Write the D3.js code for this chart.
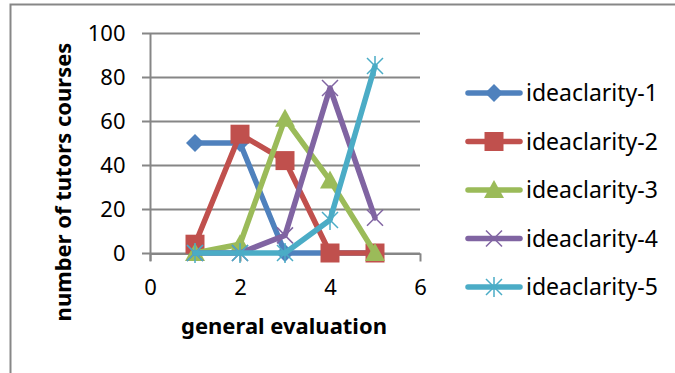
<!DOCTYPE html>
<html>
<head>
<meta charset="utf-8">
<script src="https://cdn.jsdelivr.net/npm/d3@7"></script>
<style>
  body { margin: 0; background: #fff; }
  svg text { font-family: "Noto Sans", "Open Sans", sans-serif; fill: #000; }
</style>
</head>
<body>
<svg id="chart_1" width="675" height="373"></svg>
<script>
// data
var xValues = [1, 2, 3, 4, 5];
var seriesNames = ["ideaclarity-1", "ideaclarity-2", "ideaclarity-3", "ideaclarity-4", "ideaclarity-5"];
var clarity1 = [50, 50, 0, 0, 0];
var clarity2 = [4, 54, 42, 0, 0];
var clarity3 = [0, 4, 61, 33, 0];
var clarity4 = [0, 0, 8, 75, 16];
var clarity5 = [0, 0, 0, 15, 85];
var xTicks = [0, 2, 4, 6];
var yTicks = [0, 20, 40, 60, 80, 100];

var colors = ["#4F81BD", "#C0504D", "#9BBB59", "#8064A2", "#4BACC6"];
var shapes = ["diamond", "square", "triangle", "cross", "star"];
var allSeries = [clarity1, clarity2, clarity3, clarity4, clarity5];

var svg_1 = d3.select("#chart_1");

// outer frame (only top and left edges visible in the picture)
svg_1.append("path")
    .attr("d", "M10.5,373 V4.5 H675")
    .attr("fill", "none")
    .attr("stroke", "#878787")
    .attr("stroke-width", 2);

var xScale = d3.scaleLinear().domain([0, 6]).range([150, 420]);
var yScale = d3.scaleLinear().domain([0, 100]).range([253, 33]);

// gridlines
svg_1.append("g")
    .attr("class", "grid")
    .selectAll("line")
    .data(yTicks)
    .enter().append("line")
    .attr("x1", 142)
    .attr("x2", 420)
    .attr("y1", function (d) { return yScale(d) + 0.5; })
    .attr("y2", function (d) { return yScale(d) + 0.5; })
    .attr("stroke", "#868686")
    .attr("stroke-width", 2);

var yAxis = d3.axisLeft(yScale)
    .tickValues(yTicks)
    .tickFormat(d3.format("d"))
    .tickSize(0)
    .tickPadding(25);

var yG = svg_1.append("g")
    .attr("transform", "translate(150.5,0)")
    .call(yAxis);
yG.select(".domain").remove();
yG.selectAll("text")
    .style("font-size", "22px")
    .attr("dy", "0.36em");

// y axis line
svg_1.append("line")
    .attr("x1", 150.5).attr("x2", 150.5)
    .attr("y1", yScale(100)).attr("y2", yScale(0) + 8)
    .attr("stroke", "#868686")
    .attr("stroke-width", 2);

var xAxis = d3.axisBottom(xScale)
    .tickValues(xTicks)
    .tickFormat(d3.format("d"))
    .tickSize(8)
    .tickSizeOuter(0)
    .tickPadding(18);

var xG = svg_1.append("g")
    .attr("transform", "translate(0," + (yScale(0) + 0.5) + ")")
    .call(xAxis);
xG.select(".domain").attr("stroke", "#868686").attr("stroke-width", 2);
xG.selectAll(".tick line").attr("stroke", "#868686").attr("stroke-width", 2);
xG.selectAll("text").style("font-size", "22px");

// axis titles
svg_1.append("text")
    .attr("transform", "translate(71,182) rotate(-90)")
    .attr("text-anchor", "middle")
    .style("font-size", "22px")
    .style("font-weight", "bold")
    .text("number of tutors courses");

svg_1.append("text")
    .attr("x", 284)
    .attr("y", 334)
    .attr("text-anchor", "middle")
    .style("font-size", "22px")
    .style("font-weight", "bold")
    .text("general evaluation");

function markerPath(shape) {
    if (shape === "diamond") return "M0,-9 L9,0 L0,9 L-9,0 Z";
    if (shape === "square") return "M-9.5,-9.5 H9.5 V9.5 H-9.5 Z";
    if (shape === "triangle") return "M0,-10 L10,8 L-10,8 Z";
    if (shape === "cross") return "M-8,-8 L8,8 M8,-8 L-8,8";
    return "M-8,-8 L8,8 M8,-8 L-8,8 M0,-10 V10";
}

function drawMarker(g, shape, color) {
    var filled = shape === "diamond" || shape === "square" || shape === "triangle";
    g.append("path")
        .attr("d", markerPath(shape))
        .attr("fill", filled ? color : "none")
        .attr("stroke", color)
        .attr("stroke-width", filled ? 0 : 1.5);
}

var line = d3.line()
    .x(function (d, i) { return xScale(xValues[i]); })
    .y(function (d) { return yScale(d); });

allSeries.forEach(function (vals, s) {
    var g = svg_1.append("g").attr("class", "series");
    g.append("path")
        .datum(vals)
        .attr("d", line)
        .attr("fill", "none")
        .attr("stroke", colors[s])
        .attr("stroke-width", 5.5)
        .attr("stroke-linejoin", "round")
        .attr("stroke-linecap", "round");
    vals.forEach(function (v, i) {
        var m = g.append("g")
            .attr("transform", "translate(" + xScale(xValues[i]) + "," + yScale(v) + ")");
        drawMarker(m, shapes[s], colors[s]);
    });
});

// legend
var legend = svg_1.append("g").attr("class", "legend");
seriesNames.forEach(function (name, s) {
    var y = 93 + s * 48.5;
    var row = legend.append("g");
    row.append("line")
        .attr("x1", 468).attr("x2", 520)
        .attr("y1", y).attr("y2", y)
        .attr("stroke", colors[s])
        .attr("stroke-width", 5.5)
        .attr("stroke-linecap", "round");
    var m = row.append("g").attr("transform", "translate(494," + y + ")");
    drawMarker(m, shapes[s], colors[s]);
    row.append("text")
        .attr("x", 526)
        .attr("y", y)
        .attr("dy", "0.36em")
        .style("font-size", "23px")
        .text(name);
});
</script>
</body>
</html>
